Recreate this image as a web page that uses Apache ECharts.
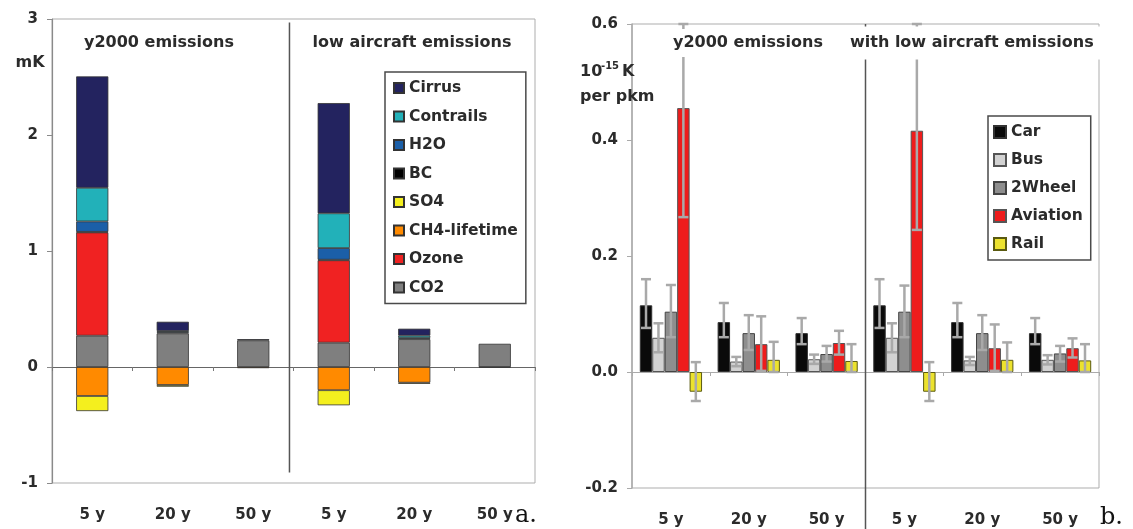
<!DOCTYPE html>
<html><head><meta charset="utf-8">
<script src="https://cdn.jsdelivr.net/npm/echarts@6/dist/echarts.min.js"></script>
<style>html,body{margin:0;padding:0;background:#fff}#c{width:1133px;height:529px}</style>
</head><body><div id="c"></div>
<script>
// ---------- data ----------
const periods = ['5 y', '20 y', '50 y', '5 y', '20 y', '50 y'];

// panel a (mK), stacked components
const cirrus    = [0.96, 0.08, 0.01, 0.95, 0.06, null];
const contrails = [0.29, 0.01, null, 0.30, 0.02, null];
const h2o       = [0.09, 0.01, null, 0.10, 0.01, null];
const bc        = [0.005, null, null, 0.005, null, null];
const so4       = [-0.13, -0.015, null, -0.13, -0.01, null];
const ch4       = [-0.25, -0.155, -0.01, -0.20, -0.135, -0.005];
const ozone     = [0.89, null, null, 0.71, null, null];
const co2       = [0.27, 0.29, 0.23, 0.21, 0.24, 0.20];
const yTicksA   = [-1, 0, 1, 2, 3];

// panel b (1e-15 K per pkm)
const car      = [0.115, 0.086, 0.067, 0.115, 0.086, 0.067];
const carHi    = [0.160, 0.119, 0.093, 0.160, 0.119, 0.093];
const carLo    = [0.076, 0.060, 0.048, 0.076, 0.060, 0.048];
const bus      = [0.059, 0.018, 0.022, 0.059, 0.020, 0.021];
const busHi    = [0.084, 0.026, 0.030, 0.084, 0.026, 0.029];
const busLo    = [0.034, 0.010, 0.014, 0.034, 0.012, 0.013];
const wheel    = [0.104, 0.067, 0.031, 0.104, 0.067, 0.032];
const wheelHi  = [0.150, 0.098, 0.045, 0.149, 0.098, 0.045];
const wheelLo  = [0.060, 0.038, 0.018, 0.060, 0.038, 0.018];
const aviation   = [0.455, 0.048, 0.050, 0.416, 0.041, 0.041];
const aviationHi = [0.600, 0.096, 0.071, 0.600, 0.082, 0.058];
const aviationLo = [0.267, 0.002, 0.030, 0.245, 0.002, 0.025];
const rail     = [-0.034, 0.021, 0.019, -0.034, 0.021, 0.020];
const railHi   = [0.017, 0.052, 0.048, 0.017, 0.051, 0.048];
const railLo   = [-0.050, 0.000, 0.000, -0.050, 0.000, 0.000];
const yTicksB  = [-0.2, 0.0, 0.2, 0.4, 0.6];

// ---------- styling ----------
const FF = 'DejaVu Sans';
const TXT = '#2b2b2b';
const chart = echarts.init(document.getElementById('c'));

const compA = [
  ['CO2', co2, '#7f7f7f'],
  ['Ozone', ozone, '#f02222'],
  ['CH4-lifetime', ch4, '#ff8a00'],
  ['SO4', so4, '#f4ef1e'],
  ['BC', bc, '#000000'],
  ['H2O', h2o, '#1b5fa8'],
  ['Contrails', contrails, '#22b1b9'],
  ['Cirrus', cirrus, '#23235f']
];
const compB = [
  ['Car', car, carHi, carLo, '#0a0a0a', '#333'],
  ['Bus', bus, busHi, busLo, '#d2d2d2', '#555'],
  ['2Wheel', wheel, wheelHi, wheelLo, '#8e8e8e', '#444'],
  ['Aviation', aviation, aviationHi, aviationLo, '#ee1c1c', '#555'],
  ['Rail', rail, railHi, railLo, '#ece22e', '#5a5a10']
];

const series = [];
compA.forEach(([name, vals, col]) => {
  series.push({
    name, type: 'bar', stack: 'A', xAxisIndex: 0, yAxisIndex: 0,
    barWidth: '40%', data: vals,
    itemStyle: { color: col, borderColor: '#333', borderWidth: 0.8 }
  });
});
compB.forEach(([name, vals, hi, lo, col, bcol]) => {
  series.push({
    name, type: 'bar', xAxisIndex: 2, yAxisIndex: 1,
    barGap: '0%', barCategoryGap: '20%', data: vals,
    itemStyle: { color: col, borderColor: bcol, borderWidth: 1 }
  });
});
const errData = [];
compB.forEach(([name, vals, hi, lo], s) => {
  vals.forEach((v, i) => errData.push([i, s, lo[i], hi[i]]));
});
series.push({
  type: 'custom', name: 'err', xAxisIndex: 2, yAxisIndex: 1, z: 10,
  encode: { x: 0, y: [2, 3] },
  data: errData,
  renderItem: function (params, api) {
    const i = api.value(0), s = api.value(1);
    const c = api.coord([i, 0]);
    const bw = api.size([1, 0])[0] * 0.8 / compB.length;
    const x = c[0] + (s - (compB.length - 1) / 2) * bw;
    const yL = api.coord([i, api.value(2)])[1];
    const yH = api.coord([i, api.value(3)])[1];
    const cw = 5;
    const st = { stroke: '#a9a9a9', lineWidth: 2.5 };
    return { type: 'group', children: [
      { type: 'line', shape: { x1: x, y1: yL, x2: x, y2: yH }, style: st },
      { type: 'line', shape: { x1: x - cw, y1: yH, x2: x + cw, y2: yH }, style: st },
      { type: 'line', shape: { x1: x - cw, y1: yL, x2: x + cw, y2: yL }, style: st }
    ]};
  }
});

const lblX = { margin: 25, fontFamily: FF, fontWeight: 'bold', fontSize: 15, color: TXT };
const lblY = { margin: 14, fontFamily: FF, fontWeight: 'bold', fontSize: 15, color: TXT };
const legText = { fontFamily: FF, fontWeight: 'bold', fontSize: 15.5, color: TXT };

const option = {
  animation: false,
  backgroundColor: '#fff',
  grid: [
    { left: 52, top: 19, width: 483, height: 464, show: true, borderColor: '#adadad', borderWidth: 1 },
    { left: 632, top: 24, width: 467, height: 464, show: true, borderColor: '#adadad', borderWidth: 1 }
  ],
  xAxis: [
    { gridIndex: 0, type: 'category', data: periods, position: 'bottom',
      axisLine: { show: false, onZero: false }, axisTick: { show: false }, axisLabel: lblX },
    { gridIndex: 0, type: 'category', data: periods, position: 'bottom',
      axisLine: { show: true, onZero: true, lineStyle: { color: '#666', width: 1.2 } },
      axisTick: { show: true, length: 4, lineStyle: { color: '#777' } }, axisLabel: { show: false } },
    { gridIndex: 1, type: 'category', data: periods, position: 'bottom',
      axisLine: { show: false, onZero: false }, axisTick: { show: false }, axisLabel: lblX },
    { gridIndex: 1, type: 'category', data: periods, position: 'bottom',
      axisLine: { show: true, onZero: true, lineStyle: { color: '#aaa', width: 1.2 } },
      axisTick: { show: true, length: 4, lineStyle: { color: '#aaa' } }, axisLabel: { show: false } }
  ],
  yAxis: [
    { gridIndex: 0, type: 'value', min: yTicksA[0], max: yTicksA[yTicksA.length - 1], interval: 1,
      axisLine: { show: true, lineStyle: { color: '#8a8a8a', width: 1.2 } },
      axisTick: { show: true, length: 5, lineStyle: { color: '#8a8a8a' } },
      splitLine: { show: false }, axisLabel: lblY },
    { gridIndex: 1, type: 'value', min: yTicksB[0], max: yTicksB[yTicksB.length - 1], interval: 0.2,
      axisLine: { show: true, lineStyle: { color: '#aaa', width: 1.5 } },
      axisTick: { show: true, length: 5, lineStyle: { color: '#aaa' } },
      splitLine: { show: false },
      axisLabel: Object.assign({}, lblY, { formatter: v => v.toFixed(1) }) }
  ],
  legend: [
    { data: compA.map(c => c[0]).slice().reverse(), orient: 'vertical', left: 385, top: 72,
      itemWidth: 10, itemHeight: 10, itemGap: 12.5, padding: [8, 8, 8, 8], icon: 'rect',
      borderColor: '#4a4a4a', borderWidth: 1.5, backgroundColor: '#fff',
      selectedMode: false, textStyle: legText },
    { data: compB.map(c => c[0]), orient: 'vertical', left: 988, top: 116,
      itemWidth: 12, itemHeight: 12, itemGap: 12, padding: [8, 8, 8, 5], icon: 'rect',
      borderColor: '#4a4a4a', borderWidth: 1.5, backgroundColor: '#fff',
      selectedMode: false, textStyle: legText }
  ],
  series
};
chart.setOption(option);

// ---------- annotations ----------
const cA2 = chart.convertToPixel({ xAxisIndex: 1 }, 2);
const cA3 = chart.convertToPixel({ xAxisIndex: 1 }, 3);
const divAx = cA2 + (cA3 - cA2) * 0.45;
const divAy1 = chart.convertToPixel({ yAxisIndex: 0 }, 2.97);
const divAy2 = chart.convertToPixel({ yAxisIndex: 0 }, -0.91);
const cB2 = chart.convertToPixel({ xAxisIndex: 3 }, 2);
const cB3 = chart.convertToPixel({ xAxisIndex: 3 }, 3);
const divBx = (cB2 + cB3) / 2;
const divBy1 = chart.convertToPixel({ yAxisIndex: 1 }, 0.6);

const bold = (t, x, y, size, align, extra) => Object.assign({
  type: 'text', z: 100,
  style: Object.assign({ text: t, x, y, fill: TXT, font: `bold ${size}px "${FF}"`,
    textAlign: align || 'left', textVerticalAlign: 'middle' }, extra || {})
});

chart.setOption({
  graphic: [
    { type: 'line', z: 50, shape: { x1: divAx, y1: divAy1, x2: divAx, y2: divAy2 },
      style: { stroke: '#555', lineWidth: 1.5 } },
    { type: 'line', z: 50, shape: { x1: divBx, y1: divBy1, x2: divBx, y2: 529 },
      style: { stroke: '#555', lineWidth: 1.5 } },
    bold('y2000 emissions', 159, 43, 16, 'center'),
    bold('low aircraft emissions', 412, 43, 16, 'center'),
    bold('mK', 30, 63, 16, 'center'),
    bold('y2000 emissions', 748, 43, 16, 'center',
      { backgroundColor: '#fff', padding: [10, 3, 2, 3] }),
    bold('with low aircraft emissions', 846, 43, 16, 'left',
      { backgroundColor: '#fff', padding: [10, 8, 7, 4] }),
    bold('10', 580, 72, 16, 'left'),
    bold('-15', 601, 66, 10, 'left'),
    bold('K', 622, 72, 16, 'left'),
    bold('per pkm', 580, 97, 16, 'left'),
    { type: 'text', z: 100, style: { text: 'a.', x: 515, y: 516, fill: '#111',
      font: '24px "DejaVu Serif"', textAlign: 'left', textVerticalAlign: 'middle' } },
    { type: 'text', z: 100, style: { text: 'b.', x: 1100, y: 518, fill: '#111',
      font: '24px "DejaVu Serif"', textAlign: 'left', textVerticalAlign: 'middle' } }
  ]
});
</script>
</body></html>
